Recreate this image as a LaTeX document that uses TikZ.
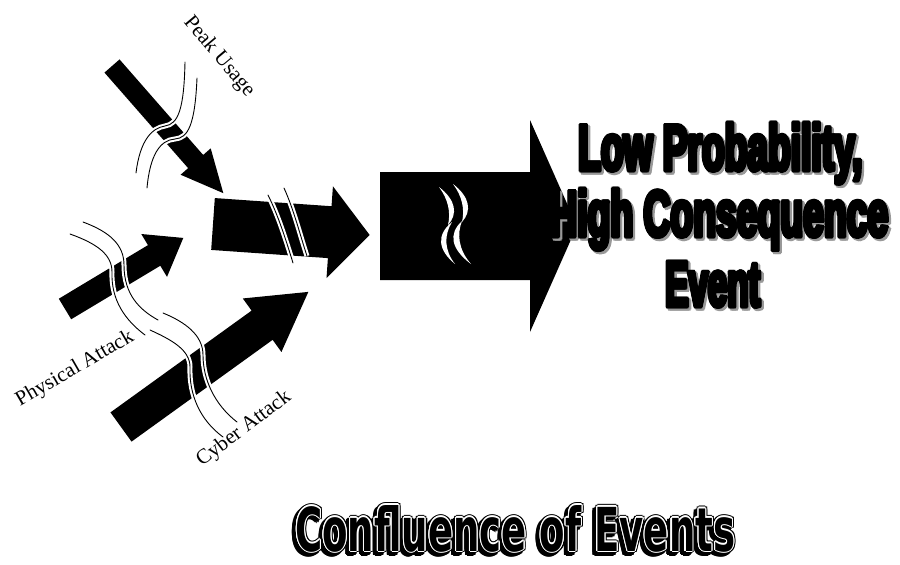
\documentclass[tikz,border=0pt]{standalone}
\usepackage{fontspec}
\setmainfont{Liberation Serif}
\newfontfamily\headfont{Liberation Sans Bold}[FakeBold=4]
\newfontfamily\titlefont{DejaVu Sans}
\usetikzlibrary{calc}

\tikzset{
  slab/.style={fill=black},
  rip/.style={black, line width=0.9pt, line cap=round},
  ripgap/.style={white, line width=5pt},
  leaf/.style={fill=white},
  cause/.style={font=\fontsize{21}{24}\selectfont, inner sep=0pt},
  headline/.style={anchor=base west, inner sep=0pt},
}
\newcommand{\headtext}[3]{\resizebox{#1pt}{#2pt}{\headfont\bfseries #3}}
\newcommand{\confluence}{\resizebox{440pt}{46pt}{\titlefont\bfseries Confluence of Events}}

\begin{document}
\begin{tikzpicture}[x=1pt, y=-1pt]
    \useasboundingbox (0,0) rectangle (900,565);

    % Peak Usage arrow (down to the right)
    \begin{scope}[shift={(112,66)}, rotate=-48.8]
        \fill[slab] (0,-10) -- (127,-10) -- (127,-20) -- (169,0) -- (127,20) -- (127,10) -- (0,10) -- cycle;
    \end{scope}

    % Physical Attack arrow
    \begin{scope}[shift={(65,309)}, rotate=31]
        \fill[slab] (0,-12) -- (104,-12) -- (104,-25) -- (138,0) -- (104,25) -- (104,12) -- (0,12) -- cycle;
    \end{scope}

    % Cyber Attack arrow
    \begin{scope}[shift={(121,427)}, rotate=35.8]
        \fill[slab] (0,-18) -- (174,-18) -- (174,-33) -- (231,0) -- (174,33) -- (174,18) -- (0,18) -- cycle;
    \end{scope}

    % Merged arrow
    \begin{scope}[shift={(213,224)}, rotate=-4]
        \fill[slab] (0,-26) -- (117,-26) -- (117,-46) -- (157,0) -- (117,46) -- (117,26) -- (0,26) -- cycle;
    \end{scope}

    % Big arrow
    \begin{scope}[shift={(380,226)}]
        \fill[slab] (0,-54) -- (150,-54) -- (150,-106) -- (197,0) -- (150,106) -- (150,54) -- (0,54) -- cycle;
    \end{scope}

    % Rips through the arrows
    \foreach \rpath in {
        {(185,62) .. controls (184,110) and (178,124) .. (165,126) .. controls (152,128) and (140,140) .. (136,173)},
        {(197,78) .. controls (195,125) and (188,138) .. (175,139) .. controls (160,140) and (150,155) .. (147,188)},
        {(83,222) .. controls (110,232) and (124,245) .. (124,265) .. controls (124,295) and (140,310) .. (158,320)},
        {(70,234) .. controls (98,244) and (112,255) .. (112,272) .. controls (111,300) and (125,320) .. (145,335)},
        {(163,313) .. controls (185,322) and (203,335) .. (203,355) .. controls (203,380) and (215,405) .. (237,422)},
        {(150,330) .. controls (172,340) and (190,350) .. (190,367) .. controls (189,395) and (200,420) .. (223,437)},
        {(268,195) .. controls (278,215) and (286,240) .. (293,263)},
        {(284,188) .. controls (294,210) and (300,235) .. (307,256)}} {
        \draw[ripgap] \rpath;
        \draw[rip] \rpath;
    }

    % White slivers in the big arrow
    \fill[leaf] (439,187) .. controls (456,200) and (458,214) .. (448,225) .. controls (451,212) and (448,199) .. (439,187);
    \fill[leaf] (453,184) .. controls (470,197) and (472,211) .. (462,222) .. controls (465,209) and (462,196) .. (453,184);
    \fill[leaf] (452,222) .. controls (436,235) and (438,250) .. (455,264) .. controls (444,250) and (444,235) .. (452,222);
    \fill[leaf] (462,221) .. controls (448,234) and (451,249) .. (471,264) .. controls (458,249) and (457,234) .. (462,221);

    % Cause labels
    \node[cause, rotate=-50] (peak) at (219,57) {Peak Usage};
    \node[cause, rotate=30] (physical) at (75,369) {Physical Attack};
    \node[cause, rotate=37] (cyber) at (244,429) {Cyber Attack};

    % Outcome: grey halo, then heavy black text
    \foreach \a in {0,60,...,300} {
        \node[headline, text=black!40] (low-sh-\a) at ($(580,172)+(\a:1.5)$) {\headtext{284}{47}{Low Probability,}};
        \node[headline, text=black!40] (high-sh-\a) at ($(552,238)+(\a:1.5)$) {\headtext{338}{47}{High Consequence}};
        \node[headline, text=black!40] (event-sh-\a) at ($(667,308)+(\a:1.5)$) {\headtext{95}{44}{Event}};
    }
    \foreach \a in {0,60,...,300} {
        \node[headline] (low-\a) at ($(578,170)+(\a:1.2)$) {\headtext{284}{47}{Low Probability,}};
        \node[headline] (high-\a) at ($(550,236)+(\a:1.2)$) {\headtext{338}{47}{High Consequence}};
        \node[headline] (event-\a) at ($(665,306)+(\a:1.2)$) {\headtext{95}{44}{Event}};
    }

    % Title: shadow, outline, inline, core
    \foreach \a in {0,30,...,330} {
        \node[headline] (ttl-sh-\a) at ($(292,554)+(\a:2.2)$) {\confluence};
    }
    \foreach \a in {0,30,...,330} {
        \node[headline] (ttl-out-\a) at ($(295,551)+(\a:2.2)$) {\confluence};
    }
    \foreach \a in {0,30,...,330} {
        \node[headline, text=white] (ttl-in-\a) at ($(295,551)+(\a:1.1)$) {\confluence};
    }
    \node[headline] (title) at (295,551) {\confluence};
\end{tikzpicture}
\end{document}
